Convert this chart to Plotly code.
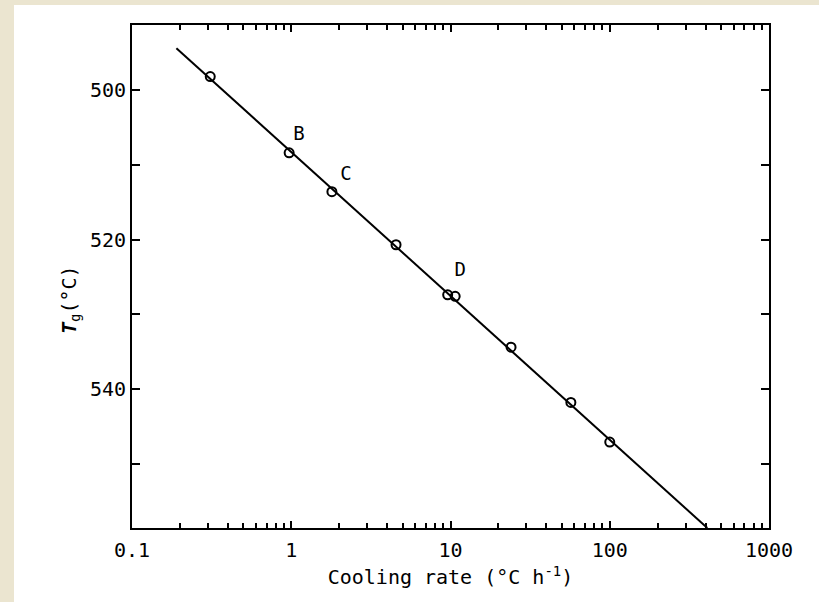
import plotly.graph_objects as go

# Data
rate = [0.31, 0.97, 1.80, 4.55, 9.6, 10.7, 24.0, 57.0, 100.0]
tg = [498.2, 508.4, 513.6, 520.7, 527.4, 527.6, 534.4, 541.8, 547.1]
fit_rate = [0.19, 410.0]
fit_tg = [494.4, 558.6]
label_text = ["B", "C", "D"]
label_rate = [1.12, 2.21, 11.5]
label_tg = [506.0, 511.4, 524.3]
x_tickvals = [0.1, 1, 10, 100, 1000]
x_ticktext = ["0.1", "1", "10", "100", "1000"]
x_minor = [m * d for d in [0.1, 1, 10, 100] for m in range(2, 10)]
y_tickvals = [500, 520, 540]
y_ticktext = ["500", "520", "540"]
y_minor = [510, 530, 550]

FONT = "DejaVu Sans Mono"
CREAM = "#ebe5d0"

fig = go.Figure()
fig.add_trace(go.Scatter(x=fit_rate, y=fit_tg, mode="lines",
                         line=dict(color="black", width=2), showlegend=False))
fig.add_trace(go.Scatter(x=rate, y=tg, mode="markers",
                         marker=dict(symbol="circle-open", size=9, color="black",
                                     line=dict(width=2, color="black")),
                         showlegend=False))
fig.add_trace(go.Scatter(x=label_rate, y=label_tg, mode="text", text=label_text,
                         textfont=dict(family=FONT, size=19, color="black"),
                         showlegend=False))

fig.update_xaxes(type="log", range=[-1, 3], tickvals=x_tickvals, ticktext=x_ticktext,
                 ticks="inside", ticklen=7, tickwidth=2, tickcolor="black",
                 minor=dict(tickvals=x_minor, ticks="inside", ticklen=5, tickwidth=1.5,
                            tickcolor="black", showgrid=False),
                 showline=True, linecolor="black", linewidth=2, mirror="allticks",
                 showgrid=False, zeroline=False, ticklabelstandoff=3,
                 tickfont=dict(family=FONT, size=20, color="black"),
                 title=dict(text="Cooling rate (°C h<sup>-1</sup>)",
                            font=dict(family=FONT, size=20, color="black"), standoff=9))
fig.update_yaxes(range=[558.6, 491.3], tickvals=y_tickvals, ticktext=y_ticktext,
                 ticks="inside", ticklen=8, tickwidth=2, tickcolor="black",
                 minor=dict(tickvals=y_minor, ticks="inside", ticklen=8, tickwidth=2,
                            tickcolor="black", showgrid=False),
                 showline=True, linecolor="black", linewidth=2, mirror="allticks",
                 showgrid=False, zeroline=False,
                 tickfont=dict(family=FONT, size=20, color="black"))

fig.add_annotation(text="<i><b>T</b></i><sub>g</sub>(°C)", xref="paper", yref="paper",
                   x=(55 - 132) / 637, y=(528 - 300) / 503, textangle=-90,
                   showarrow=False, font=dict(family=FONT, size=20, color="black"))

# cream strips around the white page
fig.add_shape(type="rect", xref="paper", yref="paper", layer="below",
              x0=-0.25, x1=(14 - 132) / 637, y0=-0.3, y1=1.2,
              fillcolor=CREAM, line=dict(width=0))
fig.add_shape(type="rect", xref="paper", yref="paper", layer="below",
              x0=-0.25, x1=1.2, y0=(528 - 5) / 503, y1=1.2,
              fillcolor=CREAM, line=dict(width=0))

fig.update_layout(width=819, height=602,
                  margin=dict(l=132, r=50, t=25, b=74),
                  paper_bgcolor="white", plot_bgcolor="white",
                  showlegend=False)

fig.write_html("out.html", config={"displayModeBar": False},
               post_script="document.body.style.margin='0';document.body.style.overflow='hidden';")
